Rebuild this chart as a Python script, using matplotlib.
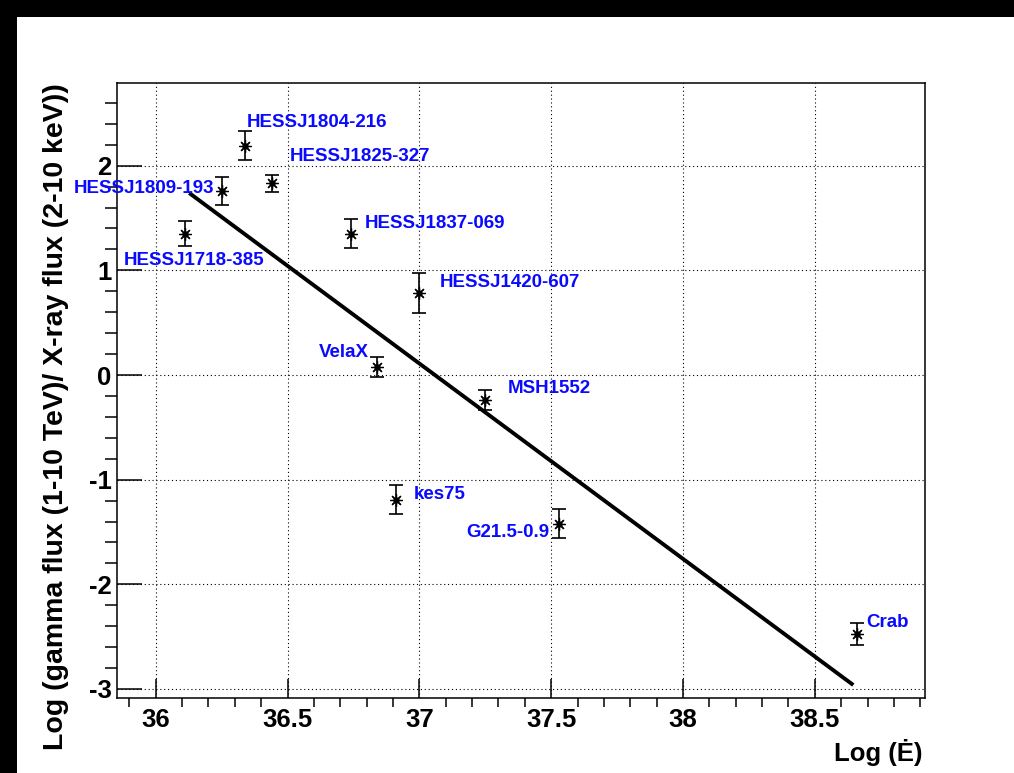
#!/usr/bin/env python3
"""Gamma/X-ray flux ratio versus spin-down power for HESS pulsar wind nebulae."""

import matplotlib

matplotlib.use("Agg")
import matplotlib.pyplot as plt
from matplotlib.patches import Rectangle
from matplotlib.ticker import MultipleLocator

plt.rcParams["font.family"] = ["Liberation Sans", "DejaVu Sans"]
plt.rcParams["font.weight"] = "bold"

# data
SOURCES = [
    "HESSJ1718-385", "HESSJ1809-193", "HESSJ1804-216", "HESSJ1825-327",
    "HESSJ1837-069", "HESSJ1420-607", "VelaX", "MSH1552", "kes75",
    "G21.5-0.9", "Crab",
]
LOG_EDOT = [36.11, 36.25, 36.34, 36.44, 36.74, 37.00, 36.84, 37.25, 36.91, 37.53, 38.66]
LOG_RATIO = [1.35, 1.76, 2.19, 1.83, 1.35, 0.78, 0.08, -0.24, -1.19, -1.42, -2.47]
RATIO_ERR = [0.12, 0.135, 0.14, 0.08, 0.14, 0.19, 0.095, 0.095, 0.135, 0.14, 0.105]

# fitted line end points
FIT_X = [36.127, 38.646]
FIT_Y = [1.739, -2.962]

# where each name is written (data coords, left edge / vertical centre)
LABEL_POS = {
    "HESSJ1718-385": (35.88, 1.09),
    "HESSJ1809-193": (35.69, 1.78),
    "HESSJ1804-216": (36.346, 2.41),
    "HESSJ1825-327": (36.509, 2.086),
    "HESSJ1837-069": (36.794, 1.445),
    "HESSJ1420-607": (37.078, 0.881),
    "VelaX": (36.62, 0.212),
    "MSH1552": (37.336, -0.132),
    "kes75": (36.98, -1.145),
    "G21.5-0.9": (37.177, -1.508),
    "Crab": (38.694, -2.36),
}

W, H = 1014, 773
fig = plt.figure(figsize=(W / 100, H / 100), dpi=100, facecolor="black")
fig.patches.append(
    Rectangle((17 / W, 0), 1 - 17 / W, (H - 17) / H, transform=fig.transFigure,
              facecolor="white", edgecolor="none", zorder=-5)
)
ax = fig.add_axes([117 / W, (H - 698) / H, (925 - 117) / W, (698 - 83) / H])
ax.set_zorder(2)

ax.plot(FIT_X, FIT_Y, color="black", linewidth=2.8, solid_capstyle="butt", zorder=3)

ax.errorbar(LOG_EDOT, LOG_RATIO, yerr=RATIO_ERR, fmt="none", ecolor="black",
            elinewidth=1.2, capsize=5, capthick=1.2, zorder=4)
ax.plot(LOG_EDOT, LOG_RATIO, linestyle="", marker=(8, 2, 0), markersize=9,
        markeredgewidth=0.9, color="black", zorder=5)
ax.plot(LOG_EDOT, LOG_RATIO, linestyle="", marker="o", markersize=3.6,
        color="black", zorder=5)

for name in SOURCES:
    lx, ly = LABEL_POS[name]
    ax.text(lx, ly, name, color="#0a0aff", fontsize=13.5, fontweight="bold",
            ha="left", va="center", zorder=6, clip_on=False)

ax.set_xlim(35.853, 38.918)
ax.set_ylim(-3.086, 2.79)
ax.xaxis.set_major_locator(MultipleLocator(0.5))
ax.xaxis.set_minor_locator(MultipleLocator(0.1))
ax.yaxis.set_major_locator(MultipleLocator(1))
ax.yaxis.set_minor_locator(MultipleLocator(0.2))
ax.xaxis.set_major_formatter(lambda v, p: f"{v:g}")
ax.yaxis.set_major_formatter(lambda v, p: f"{v:g}".replace("\u2212", "-"))

ax.tick_params(direction="in", top=False, right=False, width=1.1,
               labelsize=18.5, colors="black")
ax.tick_params(axis="x", which="major", length=14, pad=7)
ax.tick_params(axis="x", which="minor", length=6.5, width=1.1)
ax.tick_params(axis="y", which="major", length=18, pad=4)
ax.tick_params(axis="y", which="minor", length=9, width=1.1)
for lab in ax.get_xticklabels() + ax.get_yticklabels():
    lab.set_fontweight("bold")

ax.grid(True, which="major", color="black", linestyle=(0, (1, 2.5)), linewidth=0.8)
ax.set_axisbelow(True)
for sp in ax.spines.values():
    sp.set_linewidth(1.1)

fig.text(56 / W, 1 - 83 / H, "Log (gamma flux (1-10 TeV)/ X-ray flux (2-10 keV))",
         rotation=90, ha="center", va="top", fontsize=20.5, fontweight="bold")
fig.text(923 / W, 1 - 753 / H, "Log (\u0116)", ha="right", va="center",
         fontsize=18.5, fontweight="bold")

fig.savefig("out.png", dpi=100, facecolor=fig.get_facecolor())
